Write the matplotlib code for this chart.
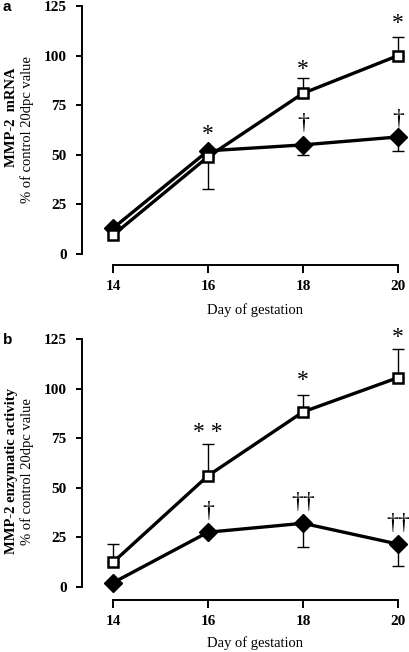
import numpy as np
import matplotlib
matplotlib.use("Agg")
import matplotlib.pyplot as plt

plt.rcParams['font.family'] = ['Liberation Serif', 'DejaVu Serif']

days = [14, 16, 18, 20]

# panel a: MMP-2 mRNA
a_open = [9.5, 49, 81, 100]
a_open_err = [0, 16, 7.5, 9.5]
a_open_dir = [1, -1, 1, 1]          # +1 error bar up, -1 down
a_fill = [13, 52, 55, 59]
a_fill_err = [0, 0, 5, 7]
a_fill_dir = [-1, -1, -1, -1]
a_marks = [("*", 16, 60), ("*", 18, 93), ("*", 20, 116), ("\u2020", 18, 66), ("\u2020", 20, 68)]

# panel b: MMP-2 enzymatic activity
b_open = [12.3, 56, 88.2, 105.5]
b_open_err = [9, 16, 8.3, 14.5]
b_open_dir = [1, 1, 1, 1]
b_fill = [2, 27.5, 32, 21.5]
b_fill_err = [0, 0, 11.8, 11]
b_fill_dir = [-1, -1, -1, -1]
b_marks = [("* *", 16, 78), ("*", 18, 104), ("*", 20, 126),
           ("\u2020", 16, 38), ("\u2020\u2020", 18, 42.5), ("\u2020\u2020", 20, 32)]

W, H = 410, 652
fig = plt.figure(figsize=(W / 100, H / 100), dpi=100)


def panel(top_px, bot_px, xline_px, open_v, open_e, open_d, fill_v, fill_e, fill_d,
          marks, ylab1, ylab2, letter, lab1_y, lab2_y, xlab_y):
    ax = fig.add_axes([113 / W, (H - bot_px) / H, (398 - 113) / W, (bot_px - top_px) / H])
    ax.set_xlim(14, 20)
    ax.set_ylim(0, 125)
    for s in ['top', 'right']:
        ax.spines[s].set_visible(False)
    ax.spines['left'].set_position(('outward', 31 * 0.72))
    ax.spines['bottom'].set_position(('outward', (xline_px - bot_px) * 0.72))
    for s in ['left', 'bottom']:
        ax.spines[s].set_linewidth(1.4)
    ax.set_xticks(days)
    ax.set_yticks([0, 25, 50, 75, 100, 125])
    ax.tick_params(axis='y', direction='out', length=4, width=1.4, pad=7, labelsize=11)
    ax.tick_params(axis='x', direction='out', length=6, width=1.4, pad=5, labelsize=11)
    for lab in ax.get_xticklabels() + ax.get_yticklabels():
        lab.set_fontweight('bold')

    # error bars (one-sided)
    for x, v, e, d in list(zip(days, open_v, open_e, open_d)) + list(zip(days, fill_v, fill_e, fill_d)):
        if e > 0:
            yerr = [[e], [0]] if d < 0 else [[0], [e]]
            ax.errorbar([x], [v], yerr=yerr, fmt='none', ecolor='black', elinewidth=1,
                        capsize=4, capthick=1, clip_on=False, zorder=2)

    ax.plot(days, fill_v, color='black', lw=2.4, marker='D', markersize=9.5,
            markerfacecolor='black', markeredgecolor='black', clip_on=False, zorder=3)
    ax.plot(days, open_v, color='black', lw=2.4, marker='s', markersize=7.5,
            markerfacecolor='white', markeredgecolor='black', markeredgewidth=1.8,
            clip_on=False, zorder=4)

    for txt, x, y in marks:
        fs = 17 if '*' in txt else 17
        ax.text(x, y, txt, ha='center', va='center', fontsize=fs, clip_on=False)

    fig.text(12 / W, 1 - lab1_y / H, ylab1, rotation=90, ha='center', va='center',
             fontsize=10.5, fontweight='bold')
    fig.text(27 / W, 1 - lab2_y / H, ylab2, rotation=90, ha='center', va='center',
             fontsize=10.5)
    fig.text(255 / W, 1 - xlab_y / H, "Day of gestation", ha='center', va='center', fontsize=10.5)
    fig.text(3 / W, 1 - (top_px + 1) / H, letter, ha='left', va='center', fontsize=11,
             fontweight='bold', family=['Liberation Sans', 'DejaVu Sans'])
    return ax


panel(6, 254, 265, a_open, a_open_err, a_open_dir, a_fill, a_fill_err, a_fill_dir,
      a_marks, "MMP-2  mRNA", "% of control 20dpc value", "a", 117, 130, 310)
panel(339, 586.7, 600, b_open, b_open_err, b_open_dir, b_fill, b_fill_err, b_fill_dir,
      b_marks, "MMP-2 enzymatic activity", "% of control 20dpc value", "b", 471, 472, 643)

fig.savefig("out.png", dpi=100)
